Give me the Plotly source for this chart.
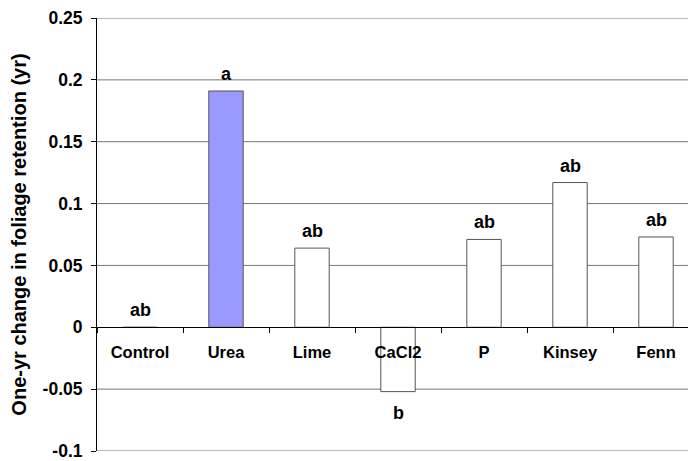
import plotly.graph_objects as go

categories = ["Control", "Urea", "Lime", "CaCl2", "P", "Kinsey", "Fenn"]
values = [0.0, 0.191, 0.064, -0.052, 0.071, 0.117, 0.073]
letters = ["ab", "a", "ab", "b", "ab", "ab", "ab"]
bar_colors = ["#FFFFFF", "#9999FF", "#FFFFFF", "#FFFFFF", "#FFFFFF", "#FFFFFF", "#FFFFFF"]
y_ticks = [-0.1, -0.05, 0, 0.05, 0.1, 0.15, 0.2, 0.25]
y_tick_text = ["-0.1", "-0.05", "0", "0.05", "0.1", "0.15", "0.2", "0.25"]

FONT = "Liberation Sans, Arial, sans-serif"

fig = go.Figure()

for t in y_ticks:
    if t != 0:
        fig.add_hline(y=t, line=dict(color="#777777", width=1), layer="below")

fig.add_trace(go.Bar(
    x=categories, y=values, width=0.4,
    marker=dict(color=bar_colors, line=dict(color="#555555", width=1)),
    showlegend=False, hoverinfo="skip",
))

for c, v, l in zip(categories, values, letters):
    if v >= 0:
        fig.add_annotation(x=c, y=v, text="<b>%s</b>" % l, showarrow=False,
                           yanchor="bottom", yshift=5,
                           font=dict(family=FONT, size=18, color="black"))
    else:
        fig.add_annotation(x=c, y=v, text="<b>%s</b>" % l, showarrow=False,
                           yanchor="top", yshift=-9,
                           font=dict(family=FONT, size=18, color="black"))

ymin, ymax = -0.1, 0.25
fig.update_layout(
    width=688, height=453,
    margin=dict(l=89, r=0, t=9, b=8),
    paper_bgcolor="white", plot_bgcolor="white",
    font=dict(family=FONT, size=16, color="black"),
    xaxis=dict(
        range=[-0.5, 6.465],
        anchor="free", position=(0 - ymin) / (ymax - ymin),
        showline=True, linecolor="black", linewidth=1,
        ticks="outside", ticklen=5, tickcolor="black", tickson="boundaries",
        tickfont=dict(family=FONT, size=16.5, color="black", weight="bold"),
        ticklabelstandoff=10,
        showgrid=False, zeroline=False,
    ),
    yaxis=dict(
        range=[ymin, ymax],
        tickvals=y_ticks, ticktext=y_tick_text,
        showline=True, linecolor="black", linewidth=1,
        ticks="outside", ticklen=5, tickcolor="black",
        ticklabelstandoff=5, ticklabeloverflow="allow",
        tickfont=dict(family=FONT, size=17.5, color="black", weight="bold"),
        showgrid=False,
        zeroline=False,
        title=dict(text="One-yr change in foliage retention (yr)",
                   font=dict(family=FONT, size=20, color="black", weight="bold"),
                   standoff=13),
    ),
)

fig.write_html("out.html")
